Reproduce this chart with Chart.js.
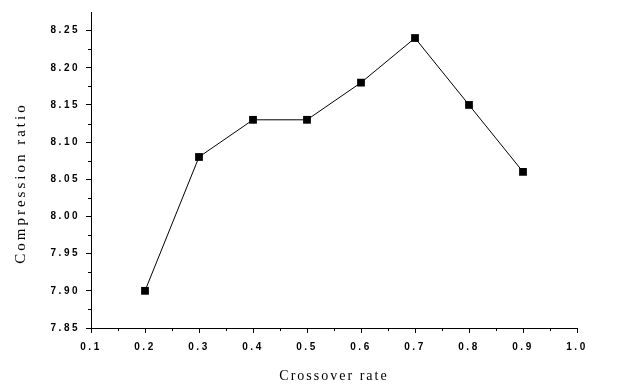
<!DOCTYPE html>
<html lang="en">
<head>
    <meta charset="UTF-8">
    <title>Compression ratio vs crossover rate</title>
    <script src="https://cdn.jsdelivr.net/npm/chart.js"></script>
    <style>
        body { margin: 0; background: #fff; }
        #wrap { width: 620px; height: 385px; }
    </style>
</head>
<body>
<div id="wrap"><canvas id="ratioChart" width="620" height="385"></canvas></div>
<script>
    // crossover rate vs compression ratio
    const crossoverRates = [0.2, 0.3, 0.4, 0.5, 0.6, 0.7, 0.8, 0.9];
    const compressionRatios = [7.90, 8.08, 8.13, 8.13, 8.18, 8.24, 8.15, 8.06];

    const xMin = 0.1, xMax = 1.0, xStep = 0.1;
    const yMin = 7.85, yMax = 8.275, yStep = 0.05, yLastLabel = 8.25;

    const tickFont = { family: 'Liberation Sans', size: 10, weight: 'bold' };

    // small ticks halfway between the labelled ones
    const minorTicks = {
        id: 'minorTicks',
        afterDraw(chart) {
            const ctx = chart.ctx;
            const xs = chart.scales.x, ys = chart.scales.y;
            ctx.save();
            ctx.strokeStyle = '#000';
            ctx.lineWidth = 1;
            ctx.beginPath();
            for (let v = xMin + xStep / 2; v < xMax; v += xStep) {
                const px = Math.round(xs.getPixelForValue(v)) + 0.5;
                ctx.moveTo(px, ys.bottom);
                ctx.lineTo(px, ys.bottom + 3);
            }
            for (let v = yMin + yStep / 2; v < yMax; v += yStep) {
                const py = Math.round(ys.getPixelForValue(v)) + 0.5;
                ctx.moveTo(xs.left, py);
                ctx.lineTo(xs.left - 3, py);
            }
            ctx.stroke();
            ctx.restore();
        }
    };

    // wide letter spacing for tick labels and axis titles
    const spacedText = {
        id: 'spacedText',
        afterLayout(chart) {
            const ctx = chart.ctx;
            Object.values(chart.scales).forEach(scale => {
                if (scale._spaced) return;
                scale._spaced = true;
                const labels = scale.drawLabels, title = scale.drawTitle;
                scale.drawLabels = function (area) {
                    ctx.save();
                    ctx.letterSpacing = '2.5px';
                    labels.call(this, area);
                    ctx.restore();
                };
                scale.drawTitle = function () {
                    ctx.save();
                    if (this.axis === 'y') {
                        ctx.letterSpacing = '3px';
                        ctx.translate(0, 13); // y title sits a bit below centre
                    } else {
                        ctx.letterSpacing = '2px';
                    }
                    title.call(this);
                    ctx.restore();
                };
            });
        }
    };

    new Chart(document.getElementById('ratioChart'), {
        type: 'line',
        data: {
            datasets: [{
                data: crossoverRates.map((x, i) => ({ x: x, y: compressionRatios[i] })),
                borderColor: '#000',
                borderWidth: 1,
                backgroundColor: '#000',
                pointStyle: 'rect',
                pointRadius: 5.5,
                pointBorderWidth: 0,
                tension: 0,
                fill: false
            }]
        },
        options: {
            responsive: false,
            animation: false,
            layout: { padding: { top: 10, right: 43, left: 0, bottom: 0 } },
            plugins: { legend: { display: false }, tooltip: { enabled: false } },
            scales: {
                x: {
                    type: 'linear',
                    min: xMin,
                    max: xMax,
                    afterFit(scale) { scale.height = 57; },
                    ticks: {
                        stepSize: xStep,
                        color: '#000',
                        font: tickFont,
                        padding: 8,
                        callback: v => v.toFixed(1)
                    },
                    grid: { drawOnChartArea: false, tickLength: 5, color: '#000' },
                    border: { color: '#000', width: 1 },
                    title: {
                        display: true,
                        text: 'Crossover rate',
                        color: '#000',
                        font: { family: 'Liberation Serif', size: 14 },
                        padding: { top: 10, bottom: 0 }
                    }
                },
                y: {
                    min: yMin,
                    max: yMax,
                    afterFit(scale) { scale.width = 91; },
                    afterBuildTicks(scale) {
                        scale.ticks = [];
                        for (let v = yMin; v <= yLastLabel + 1e-9; v += yStep) {
                            scale.ticks.push({ value: +v.toFixed(2) });
                        }
                    },
                    ticks: {
                        color: '#000',
                        font: tickFont,
                        padding: 6,
                        callback: v => v.toFixed(2)
                    },
                    grid: { drawOnChartArea: false, tickLength: 5, color: '#000' },
                    border: { color: '#000', width: 1 },
                    title: {
                        display: true,
                        text: 'Compression ratio',
                        color: '#000',
                        font: { family: 'Liberation Serif', size: 15 },
                        padding: { top: 12, bottom: 0 }
                    }
                }
            }
        },
        plugins: [minorTicks, spacedText]
    });
</script>
</body>
</html>
